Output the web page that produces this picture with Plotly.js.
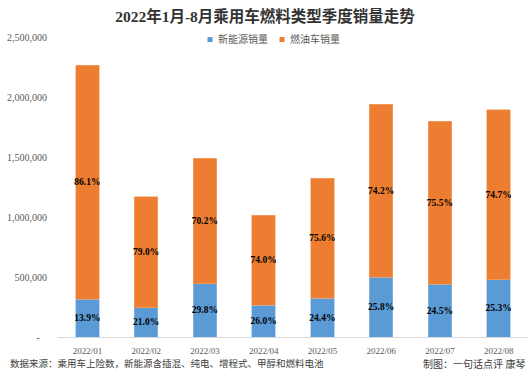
<!DOCTYPE html>
<html>
<head>
<meta charset="utf-8">
<script src="https://cdn.plot.ly/plotly-3.0.1.min.js"></script>
<style>
html,body{margin:0;padding:0;background:#fff;}
#chart{width:530px;height:375px;outline:1px solid #d9d9d9;outline-offset:-1px;}
</style>
</head>
<body>
<div id="chart"></div>
<script>
const months = ["2022/01","2022/02","2022/03","2022/04","2022/05","2022/06","2022/07","2022/08"];
const nevSales = [315000, 245000, 444000, 264000, 323000, 500000, 441000, 479000];
const iceSales = [1949000, 923000, 1046000, 750000, 1002000, 1440000, 1358000, 1414000];
const nevShare = ["13.9%","21.0%","29.8%","26.0%","24.4%","25.8%","24.5%","25.3%"];
const iceShare = ["86.1%","79.0%","70.2%","74.0%","75.6%","74.2%","75.5%","74.7%"];
const yTickVals = [0, 500000, 1000000, 1500000, 2000000, 2500000];
const yTickText = ["-\u00a0\u00a0\u00a0", "500,000", "1,000,000", "1,500,000", "2,000,000", "2,500,000"];
const seriesNames = ["新能源销量", "燃油车销量"];
const seriesColors = ["#5B9BD5", "#ED7D31"];

const serif = '"Liberation Serif", "Noto Sans CJK SC", serif';
const labelFont = {family: serif, size: 9.5, color: '#000', weight: 'bold'};

const common = {
  type: 'bar', x: months, textposition: 'inside', insidetextanchor: 'middle',
  textangle: 0, constraintext: 'none', cliponaxis: false,
  insidetextfont: labelFont, textfont: labelFont, hoverinfo: 'skip', showlegend: false
};

const data = [
  Object.assign({}, common, {name: seriesNames[0], y: nevSales, text: nevShare,
    marker: {color: seriesColors[0], line: {color: '#8fbde6', width: 0.6}}}),
  Object.assign({}, common, {name: seriesNames[1], y: iceSales, text: iceShare,
    marker: {color: seriesColors[1], line: {color: '#f5a877', width: 0.6}}})
];

// plot area in pixels: left 58, width 470, bottom 337, height 300.5
const px = v => (v - 58) / 470;
const py = v => (337 - v) / 300.5;
const legendX = [207.5, 279.5];

const shapes = seriesNames.map((n, i) => ({
  type: 'rect', xref: 'paper', yref: 'paper',
  x0: px(legendX[i]), x1: px(legendX[i] + 5), y0: py(41.5), y1: py(36.5),
  fillcolor: seriesColors[i], line: {width: 0}
}));

const legendAnn = seriesNames.map((n, i) => ({
  text: n, xref: 'paper', yref: 'paper', x: px(legendX[i] + 8.5), xanchor: 'left',
  y: py(39), yanchor: 'middle', showarrow: false,
  font: {family: serif, size: 10, color: '#595959'}
}));

const layout = {
  width: 530, height: 375,
  margin: {l: 58, r: 2, t: 36.5, b: 38},
  paper_bgcolor: '#fff', plot_bgcolor: '#fff',
  barmode: 'stack', bargap: 0.6,
  showlegend: false,
  title: {text: '<b>2022年1月-8月乘用车燃料类型季度销量走势</b>',
    font: {family: serif, size: 15.5, color: '#333'}, x: 0.5, xanchor: 'center', y: 0.955, yanchor: 'middle'},
  xaxis: {type: 'category', showgrid: false, zeroline: false, showline: true,
    linecolor: '#d9d9d9', linewidth: 1, ticks: '', ticklabelstandoff: 5,
    tickfont: {family: serif, size: 9, color: '#595959'}},
  yaxis: {range: [0, 2500000], showgrid: false, zeroline: false, showline: false,
    tickvals: yTickVals, ticktext: yTickText, ticks: '', ticklabelstandoff: 10,
    tickfont: {family: serif, size: 10, color: '#595959'}},
  shapes: shapes,
  annotations: legendAnn.concat([
    {text: '数据来源：乘用车上险数，新能源含插混、纯电、增程式、甲醇和燃料电池',
      xref: 'paper', yref: 'paper', x: -50/470, xanchor: 'left', y: -27/300.5, yanchor: 'middle',
      showarrow: false, font: {family: serif, size: 9.5, color: '#404040'}},
    {text: '制图：一句话点评 康琴',
      xref: 'paper', yref: 'paper', x: 1.0, xanchor: 'right', y: -27/300.5, yanchor: 'middle',
      showarrow: false, font: {family: serif, size: 10, color: '#404040'}}
  ])
};

Plotly.newPlot('chart', data, layout, {displayModeBar: false, staticPlot: true});
</script>
</body>
</html>
